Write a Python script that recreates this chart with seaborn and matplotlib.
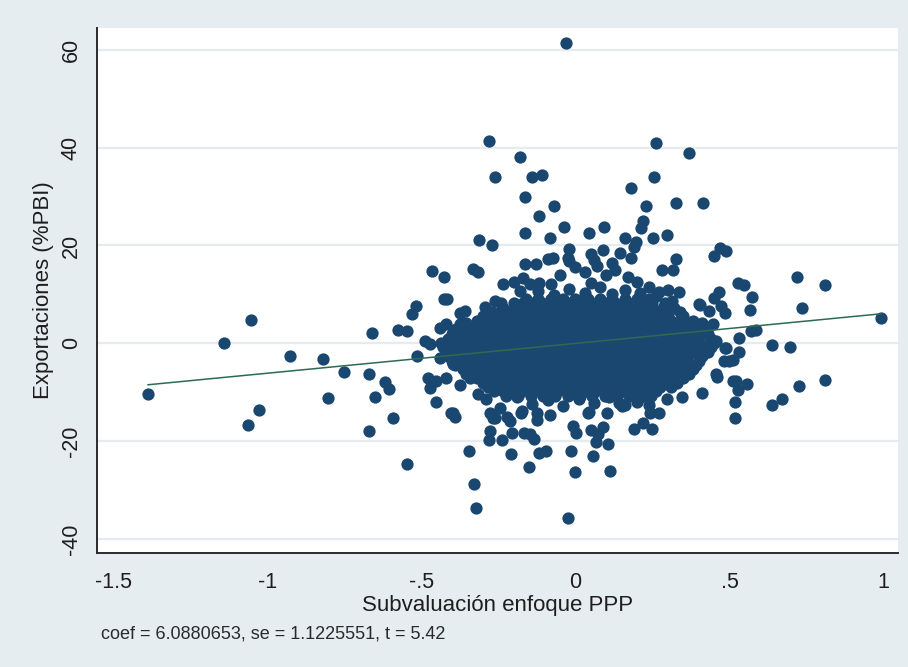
import numpy as np
import pandas as pd
import seaborn as sns
import matplotlib.pyplot as plt

# values: (subvaluacion, exportaciones)
outer_pts = [
    (-0.03, 61.4), (-0.28, 41.3), (0.26, 41.0), (0.37, 38.9), (-0.18, 38.1),
    (-0.26, 33.9), (-0.14, 33.9), (-0.11, 34.4), (0.255, 34.0), (0.18, 31.7),
    (-0.165, 29.8), (-0.07, 28.0), (0.23, 28.0), (0.326, 28.7), (0.415, 28.7),
    (-0.117, 26.0), (0.22, 25.0), (0.213, 23.5), (-0.037, 23.8), (0.094, 23.7),
    (0.043, 22.6), (-0.163, 22.6), (-0.084, 21.5), (0.16, 21.5), (0.195, 20.7),
    (0.253, 21.5), (0.298, 22.1), (-0.314, 21.1), (-0.272, 20.1), (-0.02, 19.2),
    (0.05, 18.3), (0.088, 19.1), (0.146, 18.5), (0.181, 17.5), (0.326, 17.3),
    (0.451, 17.8), (0.47, 19.4), (0.488, 18.8),
    # right side
    (0.28, 15.0), (0.317, 15.0), (0.718, 13.6), (0.809, 11.9), (0.527, 12.3),
    (0.548, 11.9), (0.574, 9.55), (0.337, 10.4), (0.315, 8.7), (0.466, 10.4),
    (0.45, 9.35), (0.404, 7.8), (0.486, 6.3), (0.566, 6.8), (0.736, 7.3),
    (0.992, 5.1), (0.569, 2.5), (0.587, 2.7), (0.531, 1.2), (0.639, -0.3),
    (0.696, -0.7), (0.486, -1.0), (0.531, -1.7), (0.482, -3.5), (0.497, -3.5),
    (0.459, -6.8), (0.809, -7.4), (0.725, -8.8), (0.52, -7.7), (0.557, -8.2),
    (0.527, -9.5), (0.412, -10.1), (0.347, -11.0), (0.296, -11.4), (0.517, -11.9),
    (0.637, -12.6), (0.671, -11.4), (0.517, -15.3), (0.272, -14.3), (0.25, -17.4),
    (0.218, -16.2),
    # bottom
    (-0.546, -24.7), (-0.347, -22.0), (-0.329, -28.7), (-0.322, -33.6), (-0.025, -35.6),
    (-0.001, -26.2), (0.113, -26.0), (-0.152, -25.3), (-0.21, -22.5), (-0.117, -22.4),
    (-0.095, -21.9), (-0.014, -21.9), (0.058, -22.9), (0.106, -20.6), (0.067, -20.1),
    (-0.282, -19.8), (-0.239, -19.8), (-0.278, -17.9), (-0.262, -15.3), (-0.453, -12.0),
    (-0.403, -14.2), (-0.392, -15.1), (-0.168, -18.3), (-0.147, -18.6), (-0.133, -19.5),
    (-0.205, -18.3), (-0.214, -15.9), (-0.176, -14.2), (-0.125, -15.7), (-0.009, -16.9),
    (0.002, -18.3), (0.051, -17.6), (0.088, -17.1), (0.072, -18.6), (0.191, -17.4),
    (0.045, -14.0), (0.142, -12.1),
    # left side
    (-1.388, -10.3), (-1.14, 0.0), (-1.053, 4.8), (-1.063, -16.7), (-1.026, -13.7),
    (-0.928, -2.6), (-0.818, -3.1), (-0.802, -11.1), (-0.75, -5.8), (-0.661, 2.1),
    (-0.671, -6.3), (-0.651, -11.0), (-0.618, -7.9), (-0.605, -9.3), (-0.592, -15.3),
    (-0.669, -17.8), (-0.575, 2.7), (-0.548, 2.5), (-0.532, 6.0), (-0.518, 7.6),
    (-0.514, -2.6),
]

ring_pts = [
    (-0.426, 13.6), (-0.467, 14.8), (-0.426, 9.0), (-0.417, 9.0), (-0.235, 12.1),
    (-0.316, 14.5), (-0.333, 15.2), (-0.359, 6.6), (-0.295, 7.4), (-0.262, 8.7),
    (-0.241, 8.3), (-0.489, 0.5), (-0.473, -0.2), (-0.478, -7.0), (-0.451, -7.7),
    (-0.473, -9.1), (-0.316, -10.3), (-0.289, -11.4), (-0.44, 3.2), (-0.42, 3.9),
    (-0.387, 2.9), (-0.354, 4.2), (-0.44, -2.9), (-0.397, -4.3), (-0.42, -7.0),
    (-0.376, -8.4), (-0.343, -7.0), (-0.268, -15.2), (-0.246, -13.1),
    (-0.165, 16.2), (-0.127, 16.2), (-0.09, 17.2), (-0.074, 17.5), (-0.025, 17.5),
    (0.191, 19.6), (-0.171, 13.4), (-0.149, 12.1), (-0.117, 12.4), (-0.376, 6.3),
    (-0.376, 3.9), (0.472, 7.6), (0.434, 6.6), (0.412, 4.2), (0.445, 3.9),
    (0.401, 8.0), (0.455, 0.5), (0.488, -0.9), (0.51, -3.3), (0.455, -6.3),
    (0.51, -7.7), (-0.397, -14.3), (-0.278, -14.3), (-0.223, -15.0), (-0.175, -13.9),
    (-0.126, -14.3), (-0.083, -14.6), (0.042, -14.3), (0.101, -14.3), (0.161, -12.6),
    (0.209, -10.9), (0.242, -14.3), (-0.2, 12.5), (-0.05, 14.0), (0.0, 15.5),
    (0.03, 14.5), (0.07, 15.8), (0.1, 14.0), (0.13, 15.0), (0.17, 13.5),
    (0.2, 12.5), (0.24, 11.5), (0.27, 10.5), (0.06, 17.0), (-0.02, 16.8),
    (0.12, 16.5), (-0.08, 12.2), (0.05, 12.3),
    # ragged top and bottom edges of the blob
    (-0.18, 10.8), (-0.12, 10.6), (-0.07, 9.8), (-0.02, 11.2), (0.03, 10.2),
    (0.08, 11.5), (0.12, 10.0), (0.16, 11.0), (0.21, 10.3), (0.26, 9.6),
    (0.3, 10.9), (-0.19, -11.0), (-0.14, -12.4), (-0.09, -11.5), (-0.04, -12.8),
    (0.01, -11.3), (0.06, -12.2), (0.11, -11.0), (0.15, -12.8), (0.2, -11.9),
    (0.24, -12.5),
]

# the dense core cannot be resolved dot by dot: rows read across the solid blob
core_row_y = [9.1, 8.2, 7.3, 6.4, 5.5, 4.6, 3.7, 2.8, 1.9, 1.0, 0.1, -0.8,
              -1.7, -2.6, -3.5, -4.4, -5.3, -6.2, -7.1, -8.0, -8.9, -9.8, -10.7]
core_row_x = [
    [-0.16, -0.12, -0.08, -0.04, 0.0, 0.04, 0.08, 0.12, 0.16, 0.2, 0.24],
    [-0.2, -0.17, -0.14, -0.11, -0.08, -0.05, -0.02, 0.01, 0.04, 0.07, 0.1, 0.13,
     0.16, 0.19, 0.22, 0.25, 0.29],
    [-0.235, -0.195, -0.155, -0.115, -0.075, -0.035, 0.005, 0.045, 0.085, 0.125,
     0.165, 0.205, 0.245, 0.285, 0.32],
    [-0.27, -0.24, -0.21, -0.18, -0.15, -0.12, -0.09, -0.06, -0.03, 0.0, 0.03, 0.06,
     0.09, 0.12, 0.15, 0.18, 0.21, 0.24, 0.27, 0.3, 0.34],
    [-0.3, -0.26, -0.22, -0.18, -0.14, -0.1, -0.06, -0.02, 0.02, 0.06, 0.1, 0.14,
     0.18, 0.22, 0.26, 0.3, 0.35],
    [-0.32, -0.29, -0.26, -0.23, -0.2, -0.17, -0.14, -0.11, -0.08, -0.05, -0.02, 0.01,
     0.04, 0.07, 0.1, 0.13, 0.16, 0.19, 0.22, 0.25, 0.28, 0.31, 0.34, 0.38],
    [-0.355, -0.315, -0.275, -0.235, -0.195, -0.155, -0.115, -0.075, -0.035, 0.005,
     0.045, 0.085, 0.125, 0.165, 0.205, 0.245, 0.285, 0.325, 0.365, 0.4],
    [-0.39, -0.36, -0.33, -0.3, -0.27, -0.24, -0.21, -0.18, -0.15, -0.12, -0.09, -0.06,
     -0.03, 0.0, 0.03, 0.06, 0.09, 0.12, 0.15, 0.18, 0.21, 0.24, 0.27, 0.3, 0.33,
     0.36, 0.39, 0.42],
    [-0.4, -0.36, -0.32, -0.28, -0.24, -0.2, -0.16, -0.12, -0.08, -0.04, 0.0, 0.04,
     0.08, 0.12, 0.16, 0.2, 0.24, 0.28, 0.32, 0.36, 0.4, 0.43],
    [-0.415, -0.385, -0.355, -0.325, -0.295, -0.265, -0.235, -0.205, -0.175, -0.145,
     -0.115, -0.085, -0.055, -0.025, 0.005, 0.035, 0.065, 0.095, 0.125, 0.155, 0.185,
     0.215, 0.245, 0.275, 0.305, 0.335, 0.365, 0.395, 0.44],
    [-0.435, -0.395, -0.355, -0.315, -0.275, -0.235, -0.195, -0.155, -0.115, -0.075,
     -0.035, 0.005, 0.045, 0.085, 0.125, 0.165, 0.205, 0.245, 0.285, 0.325, 0.365,
     0.405, 0.45],
    [-0.43, -0.4, -0.37, -0.34, -0.31, -0.28, -0.25, -0.22, -0.19, -0.16, -0.13, -0.1,
     -0.07, -0.04, -0.01, 0.02, 0.05, 0.08, 0.11, 0.14, 0.17, 0.2, 0.23, 0.26, 0.29,
     0.32, 0.35, 0.38, 0.41, 0.44],
    [-0.42, -0.38, -0.34, -0.3, -0.26, -0.22, -0.18, -0.14, -0.1, -0.06, -0.02, 0.02,
     0.06, 0.1, 0.14, 0.18, 0.22, 0.26, 0.3, 0.34, 0.38, 0.43],
    [-0.415, -0.385, -0.355, -0.325, -0.295, -0.265, -0.235, -0.205, -0.175, -0.145,
     -0.115, -0.085, -0.055, -0.025, 0.005, 0.035, 0.065, 0.095, 0.125, 0.155, 0.185,
     0.215, 0.245, 0.275, 0.305, 0.335, 0.365, 0.41],
    [-0.4, -0.36, -0.32, -0.28, -0.24, -0.2, -0.16, -0.12, -0.08, -0.04, 0.0, 0.04,
     0.08, 0.12, 0.16, 0.2, 0.24, 0.28, 0.32, 0.36, 0.4],
    [-0.39, -0.36, -0.33, -0.3, -0.27, -0.24, -0.21, -0.18, -0.15, -0.12, -0.09, -0.06,
     -0.03, 0.0, 0.03, 0.06, 0.09, 0.12, 0.15, 0.18, 0.21, 0.24, 0.27, 0.3, 0.33,
     0.36, 0.39],
    [-0.365, -0.325, -0.285, -0.245, -0.205, -0.165, -0.125, -0.085, -0.045, -0.005,
     0.035, 0.075, 0.115, 0.155, 0.195, 0.235, 0.275, 0.315, 0.355, 0.38],
    [-0.355, -0.325, -0.295, -0.265, -0.235, -0.205, -0.175, -0.145, -0.115, -0.085,
     -0.055, -0.025, 0.005, 0.035, 0.065, 0.095, 0.125, 0.155, 0.185, 0.215, 0.245,
     0.275, 0.305, 0.335, 0.37],
    [-0.32, -0.28, -0.24, -0.2, -0.16, -0.12, -0.08, -0.04, 0.0, 0.04, 0.08, 0.12,
     0.16, 0.2, 0.24, 0.28, 0.32, 0.35],
    [-0.3, -0.27, -0.24, -0.21, -0.18, -0.15, -0.12, -0.09, -0.06, -0.03, 0.0, 0.03,
     0.06, 0.09, 0.12, 0.15, 0.18, 0.21, 0.24, 0.27, 0.3, 0.33],
    [-0.285, -0.245, -0.205, -0.165, -0.125, -0.085, -0.045, -0.005, 0.035, 0.075,
     0.115, 0.155, 0.195, 0.235, 0.275, 0.31],
    [-0.265, -0.235, -0.205, -0.175, -0.145, -0.115, -0.085, -0.055, -0.025, 0.005,
     0.035, 0.065, 0.095, 0.125, 0.155, 0.185, 0.22, 0.26],
    [-0.225, -0.185, -0.145, -0.105, -0.065, -0.025, 0.015, 0.055, 0.095, 0.135,
     0.175, 0.215, 0.245],
]

coef = 6.0880653
se = 1.1225551
t_stat = 5.42

xticks = [-1.5, -1, -0.5, 0, 0.5, 1]
xtick_labels = ["-1.5", "-1", "-.5", "0", ".5", "1"]
yticks = [-40, -20, 0, 20, 40, 60]
ytick_labels = ["-40", "-20", "0", "20", "40", "60"]

rows = list(outer_pts) + list(ring_pts)
for yv, xs in zip(core_row_y, core_row_x):
    rows += [(xv, yv) for xv in xs]
df = pd.DataFrame(rows, columns=["subval", "export"])

bg = "#e6edf1"
navy = "#1a476f"
ink = "#1e1e1e"

sns.set_style("white")
plt.rcParams["font.family"] = ["Liberation Sans", "DejaVu Sans"]

fig = plt.figure(figsize=(9.08, 6.67), dpi=100, facecolor=bg)
ax = fig.add_axes([0.1068, 0.1709, 0.8822, 0.7871])
ax.set_facecolor("white")

sns.scatterplot(data=df, x="subval", y="export", s=78, color=navy,
                linewidth=0, ax=ax, zorder=3, legend=False)

# fitted line of the added-variable plot
fit_x = [df["subval"].min(), df["subval"].max()]
sns.lineplot(x=fit_x, y=[coef * v for v in fit_x], color="#2c6b52",
             linewidth=1.1, ax=ax, zorder=4)

ax.set_xlim(-1.553, 1.047)
ax.set_ylim(-42.8, 64.4)
ax.set_xticks(xticks)
ax.set_xticklabels(xtick_labels)
ax.set_yticks(yticks)
ax.set_yticklabels(ytick_labels)
for lab in ax.get_yticklabels():
    lab.set_rotation(90)
    lab.set_va("center")

ax.yaxis.grid(True, color="#e4ecf0", linewidth=1.6)
ax.xaxis.grid(False)
ax.set_axisbelow(True)

for side in ["top", "right"]:
    ax.spines[side].set_visible(False)
for side in ["left", "bottom"]:
    ax.spines[side].set_color("#2b2b2b")
    ax.spines[side].set_linewidth(1.4)

ax.tick_params(direction="out", length=7, width=1.2, color="#2b2b2b",
               labelsize=15.5, labelcolor=ink)
ax.tick_params(axis="x", pad=7)
ax.tick_params(axis="y", pad=4)

ax.set_xlabel("Subvaluación enfoque PPP", fontsize=16, color=ink, labelpad=1)
ax.set_ylabel("Exportaciones (%PBI)", fontsize=16, color=ink, labelpad=5)

fig.text(101 / 908, 1 - 634 / 667, f"coef = {coef}, se = {se}, t = {t_stat}",
         fontsize=13, color="#2a2a2a", ha="left", va="center")

fig.savefig("out.png", dpi=100, facecolor=bg)
